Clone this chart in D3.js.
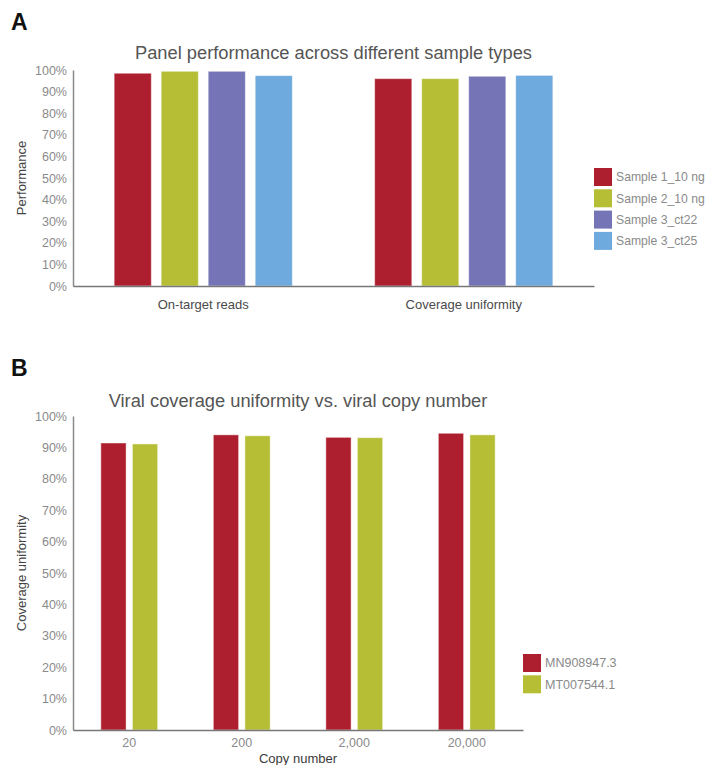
<!DOCTYPE html>
<html>
<head>
<meta charset="utf-8">
<title>panel performance</title>
<script src="https://cdn.jsdelivr.net/npm/d3@7"></script>
<style>
  body { margin: 0; background: #fff; }
  text { font-family: "Liberation Sans", Arial, sans-serif; }
</style>
</head>
<body>
<div id="chart"></div>
<script>
// ---- data ----
var catsA = ["On-target reads", "Coverage uniformity"];
var seriesA = ["Sample 1_10 ng", "Sample 2_10 ng", "Sample 3_ct22", "Sample 3_ct25"];
var valsA = [
  [98.5, 96.0],   // Sample 1_10 ng
  [99.4, 96.0],   // Sample 2_10 ng
  [99.4, 97.1],   // Sample 3_ct22
  [97.4, 97.5]    // Sample 3_ct25
];
var colorsA = ["#ad1f2e", "#b5be35", "#7574b6", "#6eaadd"];

var catsB = ["20", "200", "2,000", "20,000"];
var seriesB = ["MN908947.3", "MT007544.1"];
var valsB = [
  [91.4, 94.0, 93.2, 94.5],   // MN908947.3
  [91.1, 93.7, 93.1, 94.0]    // MT007544.1
];
var colorsB = ["#ad1f2e", "#b5be35"];

var yTicks = [0, 10, 20, 30, 40, 50, 60, 70, 80, 90, 100];

var svg = d3.select("#chart").append("svg")
  .attr("width", 717).attr("height", 765);

function panel(o) {
  var g = svg.append("g");

  // panel letter
  g.append("text").text(o.letter)
    .attr("x", 11).attr("y", o.letterY)
    .attr("font-size", 23).attr("font-weight", "bold").attr("fill", "#111");

  var y = d3.scaleLinear().domain([0, 100]).range([o.bottom, o.top]);
  var x0 = d3.scaleBand().domain(o.cats).range([o.left, o.right])
    .paddingInner(o.groupPad).paddingOuter(o.groupPad / 2);
  var x1 = d3.scaleBand().domain(o.series).range([0, x0.bandwidth()])
    .paddingInner(o.barPad);

  // title
  g.append("text").text(o.title)
    .attr("x", (o.left + o.right) / 2).attr("y", o.titleY)
    .attr("text-anchor", "middle").attr("font-size", 18.3)
    .attr("fill", "#555");

  // bars
  o.series.forEach(function(s, i) {
    g.selectAll(null).data(o.vals[i]).enter().append("rect")
      .attr("x", function(d, j) { return x0(o.cats[j]) + x1(s); })
      .attr("y", function(d) { return y(d); })
      .attr("width", x1.bandwidth())
      .attr("height", function(d) { return y(0) - y(d); })
      .attr("fill", o.colors[i])
      .attr("stroke", "rgba(255,255,255,0.45)").attr("stroke-width", 1);
  });

  // y axis
  var ya = g.append("g").attr("transform", "translate(" + o.left + ",0)")
    .call(d3.axisLeft(y).tickValues(yTicks).tickSize(0).tickPadding(6)
      .tickFormat(function(d) { return d + "%"; }));
  ya.select(".domain").attr("stroke", "#8a8a8a").attr("stroke-width", 1.5);
  ya.selectAll("text").attr("font-size", 12.5).attr("fill", "#8a8a8a")
    .style("font-family", "Liberation Sans, Arial, sans-serif");

  // x axis
  var xa = g.append("g").attr("transform", "translate(0," + o.bottom + ")")
    .call(d3.axisBottom(x0).tickSize(0).tickPadding(o.xTickPad));
  xa.select(".domain").attr("stroke", "#777").attr("stroke-width", 1.5);
  xa.selectAll("text").attr("font-size", o.xTickSize).attr("fill", o.xTickColor)
    .style("font-family", "Liberation Sans, Arial, sans-serif");

  // axis titles
  g.append("text").text(o.yLabel)
    .attr("transform", "translate(26," + (o.top + o.bottom) / 2 + ") rotate(-90)")
    .attr("text-anchor", "middle").attr("font-size", 13)
    .attr("fill", "#444");
  if (o.xLabel) {
    g.append("text").text(o.xLabel)
      .attr("x", (o.left + o.right) / 2).attr("y", o.xLabelY)
      .attr("text-anchor", "middle").attr("font-size", 13)
      .attr("fill", "#3a3a3a");
  }

  // legend
  var lg = g.append("g").attr("transform", "translate(" + o.right + "," + o.legendY + ")");
  o.series.forEach(function(s, i) {
    lg.append("rect").attr("x", 0).attr("y", i * o.legendStep)
      .attr("width", 18).attr("height", 18).attr("fill", o.colors[i]);
    lg.append("text").text(s)
      .attr("x", 22).attr("y", i * o.legendStep + 9).attr("dy", "0.35em")
      .attr("font-size", o.legendSize).attr("fill", "#8a8a8a");
  });
}

panel({
  letter: "A", letterY: 30,
  title: "Panel performance across different sample types", titleY: 59,
  cats: catsA, series: seriesA, vals: valsA, colors: colorsA,
  left: 73, right: 594, top: 70, bottom: 286,
  groupPad: 0.316, barPad: 0.21,
  xTickPad: 14, xTickSize: 13, xTickColor: "#4a4a4a",
  yLabel: "Performance",
  legendY: 168, legendStep: 21.3, legendSize: 12.2
});

panel({
  letter: "B", letterY: 376,
  title: "Viral coverage uniformity vs. viral copy number", titleY: 407,
  cats: catsB, series: seriesB, vals: valsB, colors: colorsB,
  left: 73, right: 523, top: 416, bottom: 730,
  groupPad: 0.495, barPad: 0.2,
  xTickPad: 8, xTickSize: 12.5, xTickColor: "#8a8a8a",
  yLabel: "Coverage uniformity", xLabel: "Copy number", xLabelY: 763,
  legendY: 654, legendStep: 21.3, legendSize: 12.5
});
</script>
</body>
</html>
